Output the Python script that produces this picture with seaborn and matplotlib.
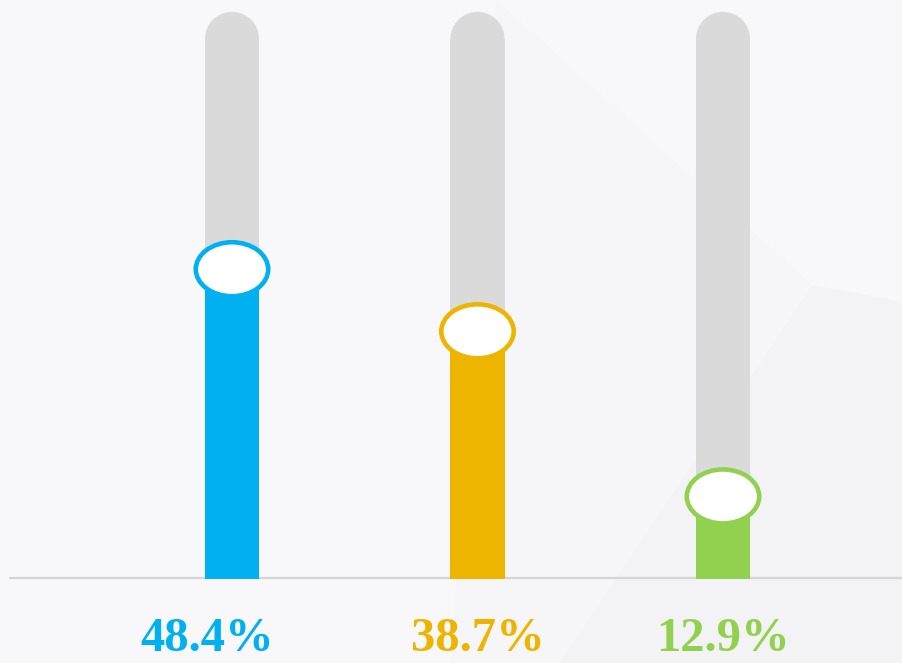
import numpy as np
import pandas as pd
import seaborn as sns
import matplotlib.pyplot as plt
from matplotlib.patches import Ellipse

# dados
labels = ["48.4%", "38.7%", "12.9%"]
values = [48.4, 38.7, 12.9]
colors = ["#00B0F0", "#EEB500", "#92D050"]

df = pd.DataFrame({"label": labels, "value": values})

# escala: px por unidade e trilho cinza
px_per_unit = 6.4
track_top = 84.4
bar_w = 0.22

sns.set_style("white")
fig = plt.figure(figsize=(9.02, 6.63), dpi=100)
ax = fig.add_axes([0, 0, 1, 1])
bg = "#F8F8FA"
fig.patch.set_facecolor(bg)
ax.set_facecolor(bg)

# fundo com poligonos discretos
ax.fill([0.9, 1.0, 1.0, 0.62], [0.57, 0.545, 0.0, 0.0], color="#F3F3F5",
        transform=ax.transAxes, zorder=0, lw=0)
ax.fill([0.55, 0.9, 0.62, 0.5], [1.0, 0.57, 0.0, 0.0], color="#F6F6F8",
        transform=ax.transAxes, zorder=0, lw=0)

# trilhos cinza
sns.barplot(data=df.assign(track=track_top), x="label", y="track", color="#DADADA",
            width=bar_w, saturation=1, linewidth=0, ax=ax, zorder=2)
for i in range(len(labels)):
    ax.add_patch(Ellipse((i, track_top), bar_w, 2 * 27 / px_per_unit,
                         facecolor="#DADADA", edgecolor="none", zorder=2))

# linha de base
ax.axhline(0.15, xmin=0.011, color="#D5D5D7", lw=1.6, zorder=1)

# barras coloridas
sns.barplot(data=df, x="label", y="value", hue="label", palette=colors,
            width=bar_w, saturation=1, linewidth=0, legend=False, ax=ax, zorder=3)

# marcadores elipticos
for i, (v, c) in enumerate(zip(values, colors)):
    ax.add_patch(Ellipse((i, v), 0.295, 54 / px_per_unit, facecolor="white",
                         edgecolor=c, lw=3.3, zorder=4))

# rotulos
for i, (lab, c) in enumerate(zip(labels, colors)):
    ax.text(i - (0.1 if i == 0 else 0), -(651 - 579) / px_per_unit, lab, ha="center",
            va="baseline", color=c, fontsize=35, fontweight="bold",
            family=["Liberation Serif", "DejaVu Serif"], zorder=5)

ax.set_xlim(-232 / 245.5, (902 - 232) / 245.5)
ax.set_ylim(-(663 - 579) / px_per_unit, 579 / px_per_unit)
ax.set_axis_off()

plt.savefig("out.png", dpi=100, facecolor=bg)
plt.close()
